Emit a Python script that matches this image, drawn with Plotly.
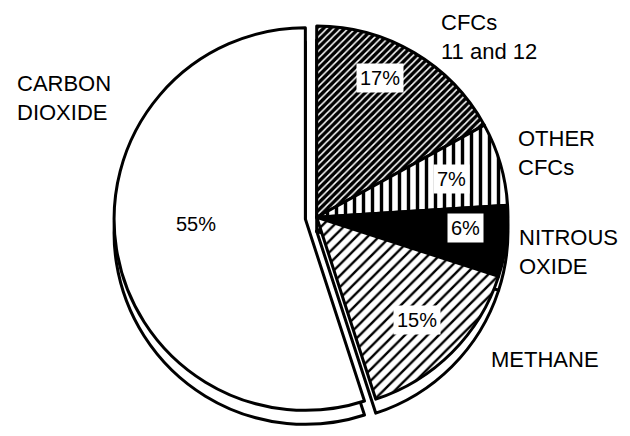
import math
import plotly.graph_objects as go

# ---- data ----
categories = ["CFCs<br>11 and 12", "OTHER<br>CFCs", "NITROUS<br>OXIDE", "METHANE", "CARBON<br>DIOXIDE"]
shares = [17, 7, 6, 15, 55]
pct_labels = ["17%", "7%", "6%", "15%", "55%"]

# ---- layout / style ----
W, H = 630, 436
PULL = [0, 0, 0, 0, 0.06]
DOM_X = [0.165, 0.815]
DOM_Y = [0.055, 0.985]
DEPTH_PX = 14
FONT = "Liberation Sans, Arial, sans-serif"

pat_shape = ["/", "|", "", "/", ""]
pat_bg = ["black", "white", "black", "white", "white"]
pat_fg = ["white", "black", "black", "black", "black"]
pat_size = [5, 9, 8, 8, 8]
pat_solid = [0.3, 0.38, 0.3, 0.3, 0.3]
base_col = ["black", "white", "black", "white", "white"]

fig = go.Figure()

# depth (3D rim) pie behind
dy = DEPTH_PX / H
fig.add_trace(go.Pie(
    labels=categories, values=shares, sort=False, direction="clockwise", rotation=0,
    pull=PULL, textinfo="none", hoverinfo="skip", showlegend=False,
    marker=dict(colors=["white"] * 5, line=dict(color="black", width=3)),
    domain=dict(x=DOM_X, y=[DOM_Y[0] - dy, DOM_Y[1] - dy]),
))

# main pie
fig.add_trace(go.Pie(
    labels=categories, values=shares, sort=False, direction="clockwise", rotation=0,
    pull=PULL, textinfo="none", hoverinfo="skip", showlegend=False,
    marker=dict(colors=base_col, line=dict(color="black", width=3),
                pattern=dict(shape=pat_shape, bgcolor=pat_bg, fgcolor=pat_fg,
                             size=pat_size, solidity=pat_solid, fillmode="replace")),
    domain=dict(x=DOM_X, y=DOM_Y),
))

# geometry same as plotly's pie
wpx = (DOM_X[1] - DOM_X[0]) * W
hpx = (DOM_Y[1] - DOM_Y[0]) * H
r = min(wpx, hpx) / (2 + 2 * max(PULL))
cx = (DOM_X[0] + DOM_X[1]) / 2 * W
cy = (1 - (DOM_Y[0] + DOM_Y[1]) / 2) * H

total = sum(shares)
annots = []
pct_rad = [0.82, 0.76, 0.82, 0.79, 0.58]
pct_shift = [(-17, -4), (-5, 2), (-7, -9), (-7, -4), (0, -12)]
lab_rad = [1.13, 1.13, 1.11, 1.2, 1.05]
lab_shift = [(12, 6), (-8, -4), (-10, 8), (10, -20), (6, -152)]
cum = 0
for i, v in enumerate(shares):
    mid = (cum + v / 2) / total * 2 * math.pi
    cum += v
    s, c = math.sin(mid), math.cos(mid)
    ox, oy = PULL[i] * r * s, -PULL[i] * r * c
    px = cx + ox + pct_rad[i] * r * s
    py = cy + oy - pct_rad[i] * r * c
    annots.append(dict(x=px / W, y=1 - py / H, xref="paper", yref="paper",
                       xanchor="center", yanchor="middle",
                       xshift=pct_shift[i][0], yshift=-pct_shift[i][1],
                       text=pct_labels[i], showarrow=False,
                       font=dict(family=FONT, size=20, color="black"),
                       bgcolor="white", borderpad=3))
    lx = cx + ox + lab_rad[i] * r * s
    ly = cy + oy - lab_rad[i] * r * c
    annots.append(dict(x=lx / W, y=1 - ly / H, xref="paper", yref="paper",
                       text=categories[i], showarrow=False, align="left",
                       xanchor="left" if s > 0 else "right", yanchor="middle",
                       xshift=lab_shift[i][0], yshift=-lab_shift[i][1],
                       font=dict(family=FONT, size=22, color="black")))

fig.update_layout(
    width=W, height=H, margin=dict(l=0, r=0, t=0, b=0),
    paper_bgcolor="white", plot_bgcolor="white",
    annotations=annots,
)

fig.write_html("out.html")
